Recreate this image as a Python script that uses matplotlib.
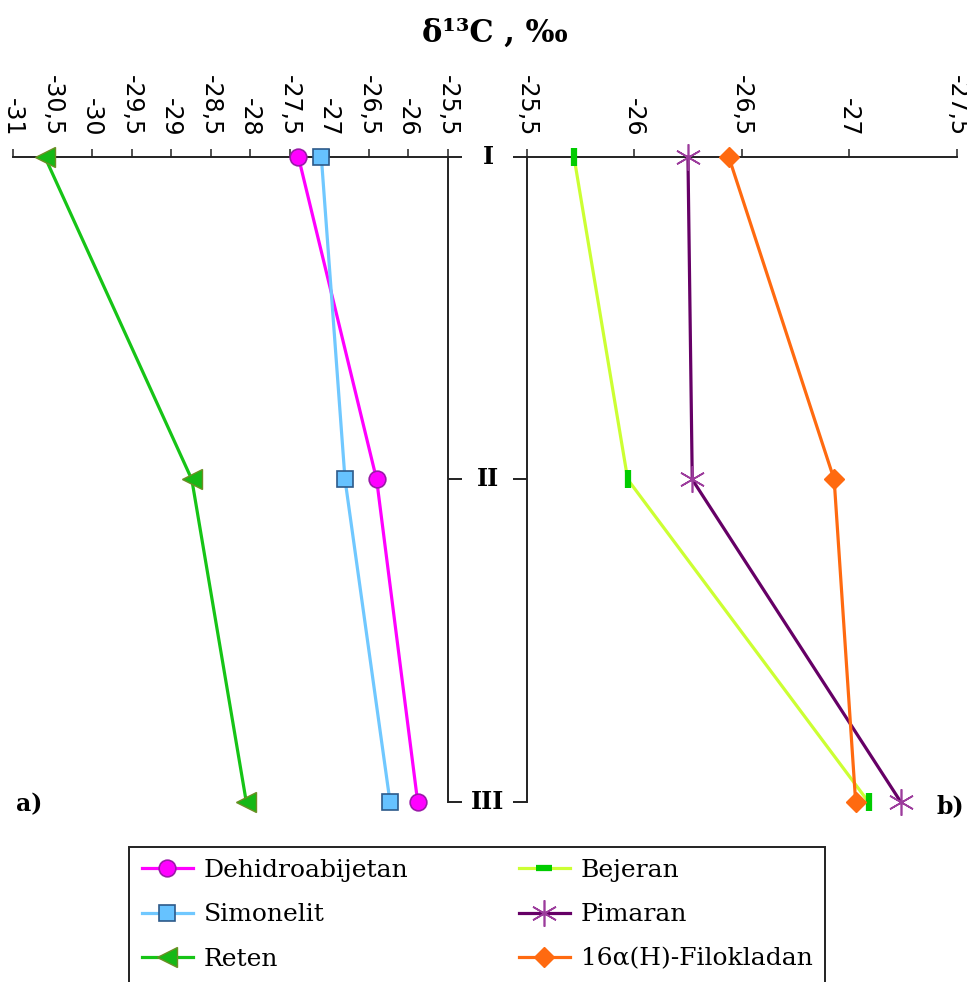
import matplotlib.pyplot as plt
from matplotlib.lines import Line2D
import numpy as np

# levels I, II, III (top to bottom)
levels = [1, 2, 3]
level_labels = ['I', 'II', 'III']

# panel a) delta13C, permil
dehidroabijetan = [-27.39, -26.40, -25.88]
simonelit = [-27.10, -26.80, -26.23]
reten = [-30.60, -28.74, -28.05]

# panel b)
bejeran = [-25.72, -25.97, -27.09]
pimaran = [-26.25, -26.27, -27.24]
filokladan = [-26.44, -26.93, -27.03]

ticks_a = [-31, -30.5, -30, -29.5, -29, -28.5, -28, -27.5, -27, -26.5, -26, -25.5]
ticks_b = [-25.5, -26, -26.5, -27, -27.5]


def fmt(v):
    s = ('%g' % v)
    return s.replace('.', ',')


W, H = 967, 982
fig = plt.figure(figsize=(W / 100, H / 100), dpi=100)

y_top, y_bot = 157, 802
bottom = 1 - y_bot / H
height = (y_bot - y_top) / H
ax1 = fig.add_axes([13.3 / W, bottom, (447.7 - 13.3) / W, height])
ax2 = fig.add_axes([526.7 / W, bottom, (956.7 - 526.7) / W, height])

lw = 2.3
ax1.plot(dehidroabijetan, levels, color='#ff00ff', lw=lw, marker='o', ms=12,
         mfc='#ff00ff', mec='#9a1aa8', mew=1.2, clip_on=False, zorder=3,
         label='Dehidroabijetan')
ax1.plot(simonelit, levels, color='#70c8ff', lw=lw, marker='s', ms=12,
         mfc='#66c2ff', mec='#2d5a8a', mew=1.2, clip_on=False, zorder=3,
         label='Simonelit')
ax1.plot(reten, levels, color='#16c416', lw=lw, marker='<', ms=14,
         mfc='#16b816', mec='#6b8e23', mew=1.0, clip_on=False, zorder=3,
         label='Reten')

ax2.plot(bejeran, levels, color='#ccff33', lw=lw, marker='|', ms=13,
         mec='#00cc00', mew=4.5, clip_on=False, zorder=3)
ax2.plot(pimaran, levels, color='#660066', lw=lw, marker=(6, 2, 0), ms=19,
         mec='#9c3c9c', mew=1.2, clip_on=False, zorder=3, label='Pimaran')
ax2.plot(filokladan, levels, color='#ff6a10', lw=lw, marker='D', ms=10,
         mfc='#ff6a10', mec='#ff6a10', clip_on=False, zorder=3,
         label='16α(H)-Filokladan')

spine_c = '#222222'
ax1.set_xlim(-31, -25.5)
ax2.set_xlim(-25.5, -27.5)
for ax, ticks in ((ax1, ticks_a), (ax2, ticks_b)):
    ax.set_ylim(3, 1)
    ax.set_xticks(ticks)
    ax.set_xticklabels([fmt(t) for t in ticks])
    ax.xaxis.tick_top()
    ax.tick_params(axis='x', direction='out', length=6, width=1.1, color=spine_c,
                   labelsize=17, labelrotation=-90, pad=9)
    ax.set_yticks(levels)
    ax.set_yticklabels([])
    ax.tick_params(axis='y', direction='out', length=10, width=1.4, color=spine_c)
    ax.spines['bottom'].set_visible(False)
    for s in ax.spines.values():
        s.set_color(spine_c)
        s.set_linewidth(1.4)

ax1.spines['left'].set_visible(False)
ax1.yaxis.tick_right()
ax2.spines['right'].set_visible(False)
ax2.yaxis.tick_left()

# level labels between the panels
for lv, lab in zip(levels, level_labels):
    ax1.text((488 - 13.3) / 434.4, lv, lab, transform=ax1.get_yaxis_transform(),
             ha='center', va='center', fontsize=17, fontweight='bold',
             family='DejaVu Serif')

fig.text(495 / W, 1 - 33 / H, 'δ¹³C , ‰', ha='center', va='center',
         fontsize=22, fontweight='bold', family='DejaVu Serif')
fig.text(29 / W, 1 - 804 / H, 'a)', ha='center', va='center', fontsize=17,
         fontweight='bold', family='DejaVu Serif')
fig.text(950 / W, 1 - 806 / H, 'b)', ha='center', va='center', fontsize=17,
         fontweight='bold', family='DejaVu Serif')

h1 = ax1.get_lines()
h_bej = Line2D([], [], color='#ccff33', lw=lw, marker='_', ms=12,
               mec='#00cc00', mew=4.5)
h2 = ax2.get_lines()
handles = [h1[0], h1[1], h1[2], h_bej, h2[1], h2[2]]
labels = ['Dehidroabijetan', 'Simonelit', 'Reten',
          'Bejeran', 'Pimaran', '16α(H)-Filokladan']
leg = fig.legend(handles, labels, ncol=2, loc='upper left',
                 bbox_to_anchor=(129.3 / W, 1 - 846.7 / H), frameon=True,
                 fancybox=False, edgecolor='#222222', framealpha=1,
                 prop={'family': 'DejaVu Serif', 'size': 18},
                 handlelength=2.05, handletextpad=0.43, columnspacing=4.4,
                 labelspacing=0.85, borderpad=0.5, borderaxespad=0)
leg.get_frame().set_linewidth(1.4)

fig.savefig('out.png', dpi=100)
